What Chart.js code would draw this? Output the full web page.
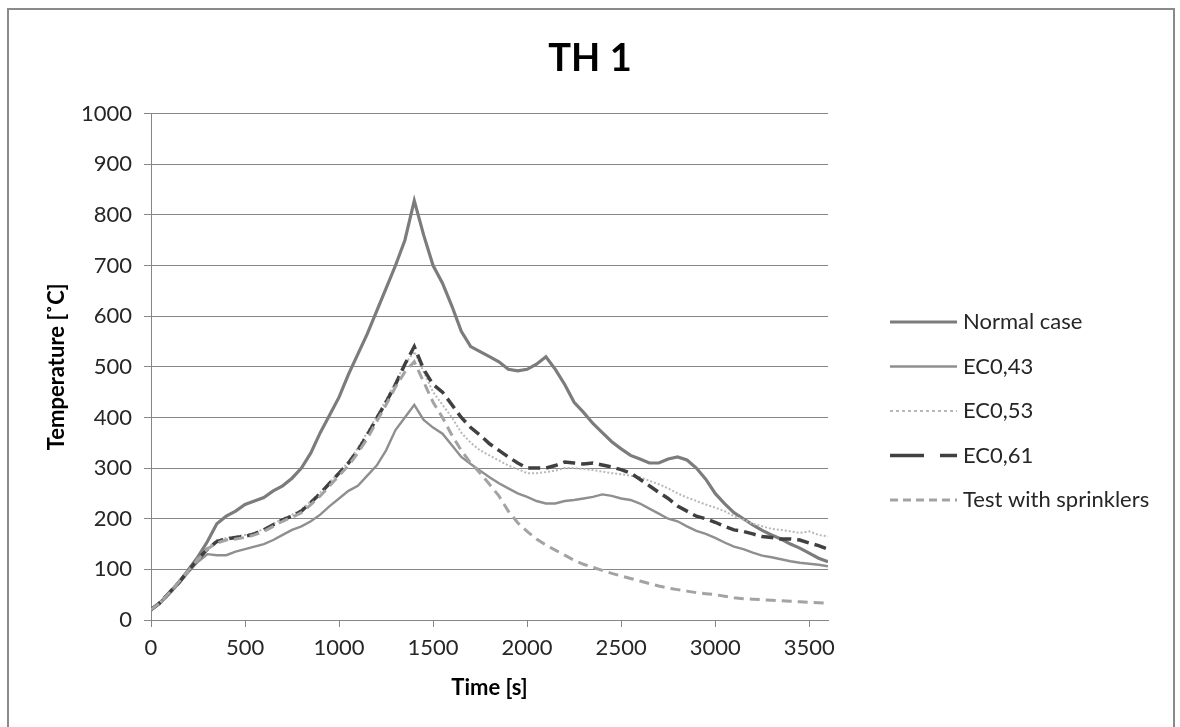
<!DOCTYPE html>
<html>
<head>
<meta charset="utf-8">
<script src="https://cdn.jsdelivr.net/npm/chart.js@4.4.1/dist/chart.umd.min.js"></script>
<style>
  html, body { margin: 0; padding: 0; background: #ffffff; }
  #wrap { position: relative; width: 1180px; height: 727px; overflow: hidden; }
  #frame { position: absolute; left: 7px; top: 8px; width: 1168px; height: 740px; border: 2px solid #8a8a8a; box-sizing: border-box; pointer-events: none; }
  canvas { position: absolute; left: 0; top: 0; }
</style>
</head>
<body>
<div id="wrap">
  <canvas id="c" width="1180" height="727"></canvas>
  <div id="frame"></div>
</div>
<script>
const chartTitle = 'TH 1';
const xTitle = 'Time [s]';
const yTitle = 'Temperature [˚C]';
const seriesNames = ['Normal case', 'EC0,43', 'EC0,53', 'EC0,61', 'Test with sprinklers'];

const times = [0,50,100,150,200,250,300,350,400,450,
  500,550,600,650,700,750,800,850,900,950,
  1000,1050,1100,1150,1200,1250,1300,1350,1400,1450,
  1500,1550,1600,1650,1700,1750,1800,1850,1900,1950,
  2000,2050,2100,2150,2200,2250,2300,2350,2400,2450,
  2500,2550,2600,2650,2700,2750,2800,2850,2900,2950,
  3000,3050,3100,3150,3200,3250,3300,3350,3400,3450,
  3500,3550,3600];

const normalCase = [20,35,55,75,100,125,155,190,205,215,
  228,235,242,255,265,280,300,330,370,405,
  440,485,525,565,610,655,700,750,828,760,
  700,665,620,570,540,530,520,510,495,492,
  495,505,520,495,465,430,410,388,370,352,
  338,325,318,310,310,318,322,316,300,278,
  250,230,212,200,188,177,168,160,150,142,
  132,122,115];

const ec043 = [20,33,52,72,95,115,130,128,128,135,
  140,145,150,158,168,178,185,195,208,225,
  240,255,265,285,305,335,375,400,425,395,
  380,368,345,322,308,295,282,270,260,250,
  243,235,230,230,235,237,240,243,248,245,
  240,237,230,220,210,200,195,185,176,170,
  162,153,145,140,133,127,124,120,116,113,
  111,109,106];

const ec053 = [20,35,55,78,100,122,142,158,162,165,
  168,172,180,190,200,208,218,235,252,272,
  292,312,340,370,402,435,470,505,530,490,
  450,425,400,370,350,335,325,315,305,298,
  290,290,292,295,300,300,298,296,293,290,
  288,285,282,275,268,260,250,242,235,228,
  222,215,205,198,190,185,180,178,175,172,
  175,168,165];

const ec061 = [20,35,55,75,98,120,140,155,160,163,
  165,170,178,188,198,205,215,232,250,270,
  290,310,335,365,398,430,465,505,540,495,
  465,450,425,400,380,365,348,335,322,310,
  300,300,300,305,312,310,308,310,306,302,
  297,290,278,265,252,240,225,215,205,200,
  193,185,178,175,170,165,163,160,160,158,
  152,147,140];

const sprinklers = [20,35,55,76,98,120,140,152,158,160,
  163,168,175,185,195,203,212,228,245,265,
  285,305,330,358,392,425,460,490,510,470,
  430,400,365,335,310,290,268,245,215,192,
  175,160,148,138,128,118,110,104,98,92,
  87,82,77,72,67,63,60,57,54,52,
  50,47,44,42,41,40,39,38,37,36,
  35,34,33];

const yTicks = [0,100,200,300,400,500,600,700,800,900,1000];
const xTicks = [0,500,1000,1500,2000,2500,3000,3500];

function pts(vals) { return times.map((t, i) => ({ x: t, y: vals[i] })); }

const FONT = 'Lato, "Open Sans", sans-serif';

const styles = [
  { color: '#7c7c7c', width: 3.2, dash: [], legendDash: [] },
  { color: '#8f8f8f', width: 2.4, dash: [], legendDash: [] },
  { color: '#b8b8b8', width: 2, dash: [2, 2], legendDash: [3, 3] },
  { color: '#404040', width: 3.5, dash: [12, 6], legendDash: [34, 16] },
  { color: '#a3a3a3', width: 3, dash: [10, 6], legendDash: [8, 5] }
];
const seriesData = [normalCase, ec043, ec053, ec061, sprinklers];

const datasets = seriesNames.map((name, i) => ({
  label: name,
  data: pts(seriesData[i]),
  borderColor: styles[i].color,
  borderWidth: styles[i].width,
  borderDash: styles[i].dash,
  pointRadius: 0,
  tension: 0,
  fill: false,
  legendDash: styles[i].legendDash,
  order: 5 - i
}));

const legendPlugin = {
  id: 'customLegend',
  afterDraw(chart) {
    const ctx = chart.ctx;
    ctx.save();
    chart.data.datasets.forEach((ds, i) => {
      const y = 322 + i * 44.5;
      ctx.beginPath();
      ctx.strokeStyle = ds.borderColor;
      ctx.lineWidth = ds.borderWidth;
      ctx.setLineDash(ds.legendDash);
      ctx.moveTo(890, y);
      ctx.lineTo(957, y);
      ctx.stroke();
      ctx.setLineDash([]);
      ctx.fillStyle = '#262626';
      ctx.font = '22px ' + FONT;
      ctx.textBaseline = 'middle';
      ctx.textAlign = 'left';
      ctx.fillText(ds.label, 963, y);
    });
    ctx.restore();
  }
};

new Chart(document.getElementById('c'), {
  type: 'line',
  data: { datasets },
  plugins: [legendPlugin],
  options: {
    responsive: false,
    animation: false,
    layout: { padding: { left: 0, right: 0, top: 0, bottom: 20 } },
    plugins: {
      legend: { display: false },
      tooltip: { enabled: false },
      title: {
        display: true,
        text: chartTitle,
        color: '#000000',
        font: { family: FONT, size: 38, weight: 'bold' },
        padding: { top: 36, bottom: 32 }
      }
    },
    scales: {
      x: {
        type: 'linear',
        min: 0,
        max: 3600,
        afterFit(s) { s.height = 87; },
        afterBuildTicks(s) { s.ticks = xTicks.map(v => ({ value: v })); },
        ticks: { color: '#262626', font: { family: FONT, size: 22 }, padding: 8, maxRotation: 0, callback: v => String(v) },
        grid: { drawOnChartArea: false, drawTicks: true, tickLength: 7, color: '#868686' },
        border: { display: true, color: '#868686', width: 1 },
        title: { display: true, text: xTitle, color: '#000000', font: { family: FONT, size: 22, weight: 'bold' }, padding: { top: 0, bottom: 6 } }
      },
      y: {
        min: 0,
        max: 1000,
        afterFit(s) { s.width = 151; },
        afterBuildTicks(s) { s.ticks = yTicks.map(v => ({ value: v })); },
        ticks: { color: '#262626', font: { family: FONT, size: 22 }, padding: 12, callback: v => String(v) },
        grid: { drawOnChartArea: true, drawTicks: true, tickLength: 7, color: '#868686', lineWidth: 1 },
        border: { display: true, color: '#868686', width: 1 },
        title: { display: true, text: yTitle, color: '#000000', font: { family: FONT, size: 22, weight: 'bold' }, padding: { top: 44, bottom: 0 } }
      },
      legendSpace: {
        type: 'linear',
        position: 'right',
        display: true,
        afterFit(s) { s.width = 352; },
        ticks: { display: false },
        grid: { display: false, drawTicks: false },
        border: { display: false },
        title: { display: false }
      }
    }
  }
});
</script>
</body>
</html>
